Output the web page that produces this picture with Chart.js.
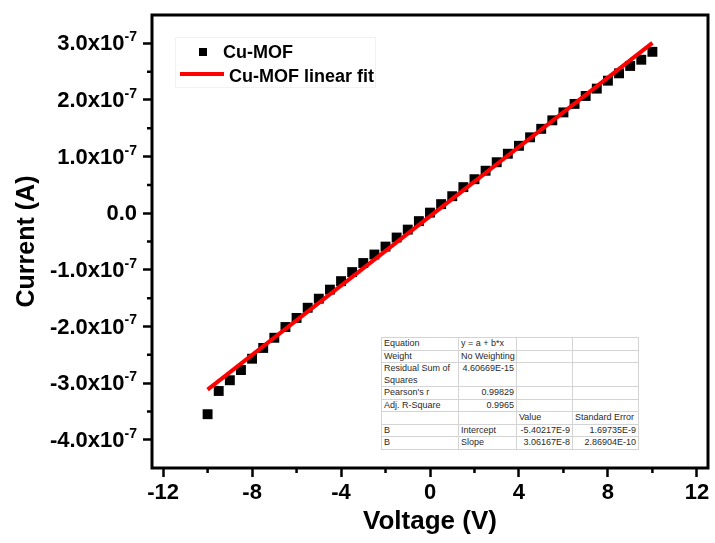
<!DOCTYPE html>
<html>
<head>
<meta charset="utf-8">
<script src="https://cdn.jsdelivr.net/npm/chart.js@4/dist/chart.umd.min.js"></script>
<style>
  body { margin: 0; background: #fff; }
  #wrap { position: relative; width: 715px; height: 543px; }
  #fitTable {
    position: absolute; left: 381px; top: 337px; width: 257px;
    table-layout: fixed; border-collapse: collapse; background: #fff;
    font: 9px "Liberation Sans", Arial, sans-serif; color: #2a2a2a;
    border: 1px solid #9a9a9a;
  }
  #fitTable td {
    border: 1px solid #d4d4d4; padding: 0 2px; height: 11px;
    line-height: 11.5px; vertical-align: top; white-space: pre;
  }
  #fitTable td.r { text-align: right; }
</style>
</head>
<body>
<div id="wrap">
  <canvas id="ivChart" width="715" height="543"></canvas>
  <table id="fitTable">
    <colgroup><col style="width:77px"><col style="width:58px"><col style="width:56px"><col style="width:66px"></colgroup>
  </table>
</div>
<script>
// measured I-V points
const voltage = [-10, -9.5, -9, -8.5, -8, -7.5, -7, -6.5, -6, -5.5, -5, -4.5, -4, -3.5, -3, -2.5, -2, -1.5, -1, -0.5,
  0, 0.5, 1, 1.5, 2, 2.5, 3, 3.5, 4, 4.5, 5, 5.5, 6, 6.5, 7, 7.5, 8, 8.5, 9, 9.5, 10];
const current = [-3.55e-7, -3.14e-7, -2.95e-7, -2.77e-7, -2.57e-7, -2.38e-7, -2.20e-7, -2.01e-7, -1.85e-7, -1.67e-7,
  -1.51e-7, -1.35e-7, -1.20e-7, -1.04e-7, -0.88e-7, -0.73e-7, -0.59e-7, -0.43e-7, -0.29e-7, -0.14e-7,
  0.01e-7, 0.16e-7, 0.30e-7, 0.46e-7, 0.60e-7, 0.75e-7, 0.90e-7, 1.05e-7, 1.19e-7, 1.34e-7,
  1.49e-7, 1.64e-7, 1.78e-7, 1.93e-7, 2.07e-7, 2.20e-7, 2.34e-7, 2.47e-7, 2.60e-7, 2.71e-7, 2.85e-7];

// linear fit end points
const fitVoltage = [-10, 10];
const fitCurrent = [-3.116e-7, 3.008e-7];

// axes
const xTicks = [-12, -8, -4, 0, 4, 8, 12];
const xMinor = [-10, -6, -2, 2, 6, 10];
const yTicks = [-4e-7, -3e-7, -2e-7, -1e-7, 0, 1e-7, 2e-7, 3e-7];
const yTickMantissa = ['-4.0', '-3.0', '-2.0', '-1.0', '0.0', '1.0', '2.0', '3.0'];
const yExponent = '-7';
const yMinor = [-3.5e-7, -2.5e-7, -1.5e-7, -0.5e-7, 0.5e-7, 1.5e-7, 2.5e-7];

// fit report table
const fitStats = [
  ['Equation', 'y = a + b*x', '', ''],
  ['Weight', 'No Weighting', '', ''],
  ['Residual Sum of\nSquares', '4.60669E-15', '', ''],
  ["Pearson's r", '0.99829', '', ''],
  ['Adj. R-Square', '0.9965', '', ''],
  ['', '', 'Value', 'Standard Error'],
  ['B', 'Intercept', '-5.40217E-9', '1.69735E-9'],
  ['B', 'Slope', '3.06167E-8', '2.86904E-10']
];

const FONT = '"Liberation Sans", Arial, sans-serif';

// build the table
const tbl = document.getElementById('fitTable');
fitStats.forEach(row => {
  const tr = document.createElement('tr');
  row.forEach(cell => {
    const td = document.createElement('td');
    td.textContent = cell;
    if (/^-?[0-9.]+(E-?[0-9]+)?$/.test(cell)) td.className = 'r';
    tr.appendChild(td);
  });
  tbl.appendChild(tr);
});

const framePlugin = {
  id: 'frame',
  afterDraw(chart) {
    const ctx = chart.ctx;
    const a = chart.chartArea;
    const xs = chart.scales.x, ys = chart.scales.y;
    ctx.save();
    ctx.strokeStyle = '#000';
    ctx.lineWidth = 3;
    ctx.strokeRect(a.left, a.top, a.right - a.left, a.bottom - a.top);

    // minor ticks
    ctx.lineWidth = 2.5;
    ctx.beginPath();
    xMinor.forEach(v => {
      const px = xs.getPixelForValue(v);
      ctx.moveTo(px, a.bottom);
      ctx.lineTo(px, a.bottom + 5);
    });
    yMinor.forEach(v => {
      const py = ys.getPixelForValue(v);
      ctx.moveTo(a.left, py);
      ctx.lineTo(a.left - 5, py);
    });
    ctx.stroke();

    // y tick labels with superscript exponent
    ctx.fillStyle = '#000';
    ctx.textBaseline = 'middle';
    ctx.textAlign = 'right';
    const right = a.left - 15;
    yTicks.forEach((v, i) => {
      const py = ys.getPixelForValue(v);
      if (v === 0) {
        ctx.font = 'bold 22px ' + FONT;
        ctx.fillText(yTickMantissa[i], right, py + 1);
        return;
      }
      ctx.font = 'bold 14px ' + FONT;
      const sw = ctx.measureText(yExponent).width;
      ctx.textBaseline = 'alphabetic';
      ctx.fillText(yExponent, right, py - 2);
      ctx.textBaseline = 'middle';
      ctx.font = 'bold 22px ' + FONT;
      ctx.fillText(yTickMantissa[i] + 'x10', right - sw, py + 1);
    });

    // legend
    const ds = chart.data.datasets;
    ctx.fillStyle = '#fff';
    ctx.fillRect(175, 37, 200, 50);
    ctx.strokeStyle = '#f2f2f2';
    ctx.lineWidth = 1;
    ctx.strokeRect(175.5, 37.5, 200, 50);
    ctx.fillStyle = ds[1].backgroundColor;
    ctx.fillRect(199, 48, 8, 8);
    ctx.strokeStyle = ds[0].borderColor;
    ctx.lineWidth = 4;
    ctx.beginPath();
    ctx.moveTo(180, 74);
    ctx.lineTo(224, 74);
    ctx.stroke();
    ctx.fillStyle = '#000';
    ctx.textAlign = 'left';
    ctx.textBaseline = 'alphabetic';
    ctx.font = 'bold 18px ' + FONT;
    ctx.fillText(ds[1].label, 223, 58);
    ctx.fillText(ds[0].label, 229, 82);
    ctx.restore();
  }
};

new Chart(document.getElementById('ivChart'), {
  type: 'scatter',
  data: {
    datasets: [
      {
        label: 'Cu-MOF linear fit',
        data: fitVoltage.map((v, i) => ({ x: v, y: fitCurrent[i] })),
        showLine: true,
        borderColor: '#ff0000',
        borderWidth: 4,
        pointRadius: 0,
        order: 0
      },
      {
        label: 'Cu-MOF',
        data: voltage.map((v, i) => ({ x: v, y: current[i] })),
        pointStyle: 'rect',
        pointRadius: 7,
        borderWidth: 0,
        backgroundColor: '#000',
        order: 1
      }
    ]
  },
  options: {
    responsive: false,
    animation: false,
    devicePixelRatio: 1,
    layout: { padding: { top: 15, right: 5, left: 0, bottom: 0 } },
    plugins: { legend: { display: false }, tooltip: { enabled: false } },
    scales: {
      x: {
        type: 'linear',
        min: -12.5,
        max: 12.5,
        afterBuildTicks: s => { s.ticks = xTicks.map(v => ({ value: v })); },
        afterFit: s => { s.height = 75; },
        border: { display: false },
        grid: { drawOnChartArea: false, tickLength: 9, tickWidth: 2.5, tickColor: '#000' },
        ticks: { color: '#000', padding: 3, font: { family: FONT, size: 22, weight: 'bold' } },
        title: {
          display: true, text: 'Voltage (V)', color: '#000',
          padding: { top: 0, bottom: 6 },
          font: { family: FONT, size: 26, weight: 'bold' }
        }
      },
      y: {
        type: 'linear',
        min: -4.5e-7,
        max: 3.5e-7,
        afterBuildTicks: s => { s.ticks = yTicks.map(v => ({ value: v })); },
        afterFit: s => { s.width = 152; },
        border: { display: false },
        grid: { drawOnChartArea: false, tickLength: 9, tickWidth: 2.5, tickColor: '#000' },
        ticks: { display: false },
        title: {
          display: true, text: 'Current (A)', color: '#000',
          padding: { top: 12, bottom: 0 },
          font: { family: FONT, size: 25, weight: 'bold' }
        }
      }
    }
  },
  plugins: [framePlugin]
});
</script>
</body>
</html>
